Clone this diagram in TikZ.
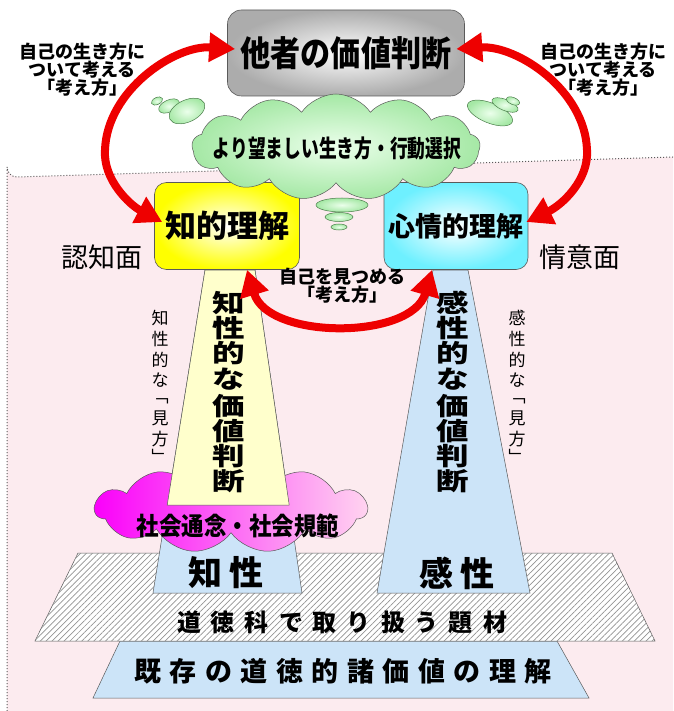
\documentclass[tikz,border=0pt]{standalone}
\usepackage{fontspec}
\newfontfamily\jp{Noto Sans CJK JP}
\usetikzlibrary{shapes.symbols,shapes.geometric,arrows.meta,patterns.meta}
\definecolor{bgpink}{RGB}{252,235,239}
\definecolor{lblue}{RGB}{204,228,248}
\definecolor{lyellow}{RGB}{255,255,204}
\definecolor{redarr}{RGB}{238,0,0}
\definecolor{gout}{RGB}{165,232,165}
\definecolor{gin}{RGB}{235,255,235}
\definecolor{edge}{RGB}{90,90,90}
\definecolor{mag}{RGB}{250,0,250}
\definecolor{pinkr}{RGB}{255,212,240}
\definecolor{cyanout}{RGB}{110,240,255}
\begin{document}
\begin{tikzpicture}[x=1pt,y=-1pt,
  bx/.style={draw=edge, line width=0.6pt, rounded corners=12pt},
  lbl/.style={font=\jp\bfseries\fontsize{18}{18}\selectfont, align=center, inner sep=0pt},
  vbig/.style={font=\jp\bfseries\fontsize{31}{31}\selectfont, inner sep=0pt},
  vsmall/.style={font=\jp\fontsize{17}{17}\selectfont, inner sep=0pt},
  side/.style={font=\jp\fontsize{27}{27}\selectfont, inner sep=0pt},
  trap/.style={draw=edge, line width=0.5pt},
  bubble/.style={draw=edge!80!green, line width=0.5pt, inner color=gin, outer color=gout},
  bigarrow/.style={draw=redarr, line width=8pt, {Triangle[length=26pt,width=28pt]}-{Triangle[length=26pt,width=28pt]}},
  base/.style={font=\jp\bfseries, inner sep=0pt}
]
\useasboundingbox (0,0) rectangle (673,711);
\fill[white] (0,0) rectangle (673,711);
% pink region
\fill[bgpink] (7,711) -- (7,167) arc[start angle=180, end angle=90, radius=10] -- (673,157) -- (673,711) -- cycle;
\draw[edge, dotted, line width=1pt] (7,711) -- (7,167) arc[start angle=180, end angle=90, radius=10] -- (673,157);

% bottom trapezoid
\draw[trap, fill=lblue] (120,641) -- (557,641) -- (589,698) -- (93,698) -- cycle;
\node[base, font=\jp\bfseries\fontsize{27}{27}\selectfont] (kizon) at (343,671)
  {既\hspace{8.5pt}存\hspace{8.5pt}の\hspace{8.5pt}道\hspace{8.5pt}徳\hspace{8.5pt}的\hspace{8.5pt}諸\hspace{8.5pt}価\hspace{8.5pt}値\hspace{8.5pt}の\hspace{8.5pt}理\hspace{8.5pt}解};

% hatched band
\draw[trap, fill=white] (78,553) -- (612,553) -- (655,641) -- (35,641) -- cycle;
\fill[pattern={Lines[angle=45,distance=4.2pt,line width=0.7pt]}, pattern color=gray!85] (78,553) -- (612,553) -- (655,641) -- (35,641) -- cycle;
\node[base, font=\jp\bfseries\fontsize{24}{24}\selectfont] (band) at (342,622)
  {道\hspace{10pt}徳\hspace{10pt}科\hspace{10pt}で\hspace{10pt}取\hspace{10pt}り\hspace{10pt}扱\hspace{10pt}う\hspace{10pt}題\hspace{10pt}材};

% columns
\draw[trap, fill=lblue] (205,270) -- (255,270) -- (302,593) -- (153,593) -- cycle;
\draw[trap, fill=lblue] (433,270) -- (468,270) -- (530,593) -- (377,593) -- cycle;

% magenta cloud
\node[cloud, cloud puffs=11, cloud puff arc=115, cloud ignores aspect, minimum width=272, minimum height=88,
  draw=edge, line width=0.5pt, left color=mag, right color=pinkr] (mc) at (231,509) {};
% yellow part of left column
\draw[trap, fill=lyellow] (205,270) -- (255,270) -- (289.2,505) -- (167.2,505) -- cycle;
\node[base, font=\jp\bfseries\fontsize{25}{25}\selectfont] (norm) at (238,526) {\scalebox{0.9}[1]{社会通念・社会規範}};

% vertical texts
\foreach \c/\y [count=\i] in {知/303,性/328,的/353,な/379,価/406,値/431,判/456,断/481}
  \node[vbig] (lv\i) at (229,\y) {\scalebox{1.05}[0.8]{\c}};
\foreach \c/\y [count=\i] in {感/303,性/328,的/353,な/379,価/406,値/431,判/456,断/481}
  \node[vbig] (rv\i) at (453,\y) {\scalebox{1.05}[0.8]{\c}};
\foreach \c/\y [count=\i] in {知/318,性/339,的/360,な/380,﹁/401,見/418,方/439,﹂/456}
  \node[vsmall] (ls\i) at (160,\y) {\c};
\foreach \c/\y [count=\i] in {感/318,性/339,的/360,な/380,﹁/401,見/418,方/439,﹂/456}
  \node[vsmall] (rs\i) at (517,\y) {\c};

\node[base, font=\jp\bfseries\fontsize{34}{34}\selectfont] (chisei) at (226,573) {知\hspace{8pt}性};
\node[base, font=\jp\bfseries\fontsize{34}{34}\selectfont] (kansei) at (457,573) {感\hspace{8pt}性};

% understanding boxes
\node[bx, minimum width=145, minimum height=87, inner color=white, outer color=yellow,
  font=\jp\bfseries\fontsize{31}{31}\selectfont] (L) at (227,226) {知的理解};
\node[bx, minimum width=144, minimum height=87, inner color=white, outer color=cyanout,
  font=\jp\bfseries\fontsize{27}{27}\selectfont] (R) at (456,226) {心情的理解};
\node[side] (ninchi) at (102,257) {認知面};
\node[side] (joui) at (580,257) {情意面};

% top box
\node[bx, rounded corners=14pt, minimum width=237, minimum height=86, inner color=white, outer color=gray!65,
  font=\jp\bfseries\fontsize{35}{35}\selectfont] (top) at (346,53) {\scalebox{0.86}[1]{他者の価値判断}};

% green cloud
\node[cloud, cloud puffs=13, cloud puff arc=112, cloud ignores aspect, minimum width=288, minimum height=106,
  draw=edge, line width=0.5pt, inner color=gin, outer color=gout] (gc) at (336,147) {};
\node[base, font=\jp\bfseries\fontsize{24}{24}\selectfont] (choice) at (337,148) {\scalebox{0.74}[1]{より望ましい生き方・行動選択}};

% thought bubbles
\draw[bubble, rotate around={25:(157,101)}] (157,101) ellipse [x radius=6, y radius=3.5];
\draw[bubble, rotate around={25:(169,106)}] (169,106) ellipse [x radius=11, y radius=6];
\draw[bubble, rotate around={25:(187,111)}] (187,111) ellipse [x radius=19, y radius=11];
\draw[bubble, rotate around={-22:(490,113)}] (490,113) ellipse [x radius=24, y radius=10];
\draw[bubble, rotate around={-22:(505,105)}] (505,105) ellipse [x radius=14, y radius=5.5];
\draw[bubble, rotate around={-22:(513,101)}] (513,101) ellipse [x radius=7, y radius=3.5];
\draw[bubble] (342,205) ellipse [x radius=26, y radius=7];
\draw[bubble] (339,217) ellipse [x radius=14, y radius=4.5];
\draw[bubble] (339,227) ellipse [x radius=8, y radius=3];

% labels
\node[lbl] (tl) at (82,70) {自己の生き方に\\ついて考える\\「考え方」};
\node[lbl] (tr) at (603,70) {自己の生き方に\\ついて考える\\「考え方」};
\node[lbl, font=\jp\bfseries\fontsize{18}{16}\selectfont] (mid) at (342,286) {自己を見つめる\\「考え方」};

% arrows
\draw[bigarrow] ([shift={(8,-4)}]top.west) .. controls (175,45) and (107,90) .. (105,150)
  .. controls (103,180) and (130,205) .. ([shift={(8,-4)}]L.west);
\draw[bigarrow] ([shift={(-8.5,-4)}]top.east) .. controls (517,45) and (585,90) .. (587,150)
  .. controls (589,180) and (562,205) .. ([shift={(-2,-4)}]R.east);
\draw[bigarrow] ([xshift=20]L.south) .. controls (268,340) and (412,340) .. ([xshift=-24]R.south);
\end{tikzpicture}
\end{document}
